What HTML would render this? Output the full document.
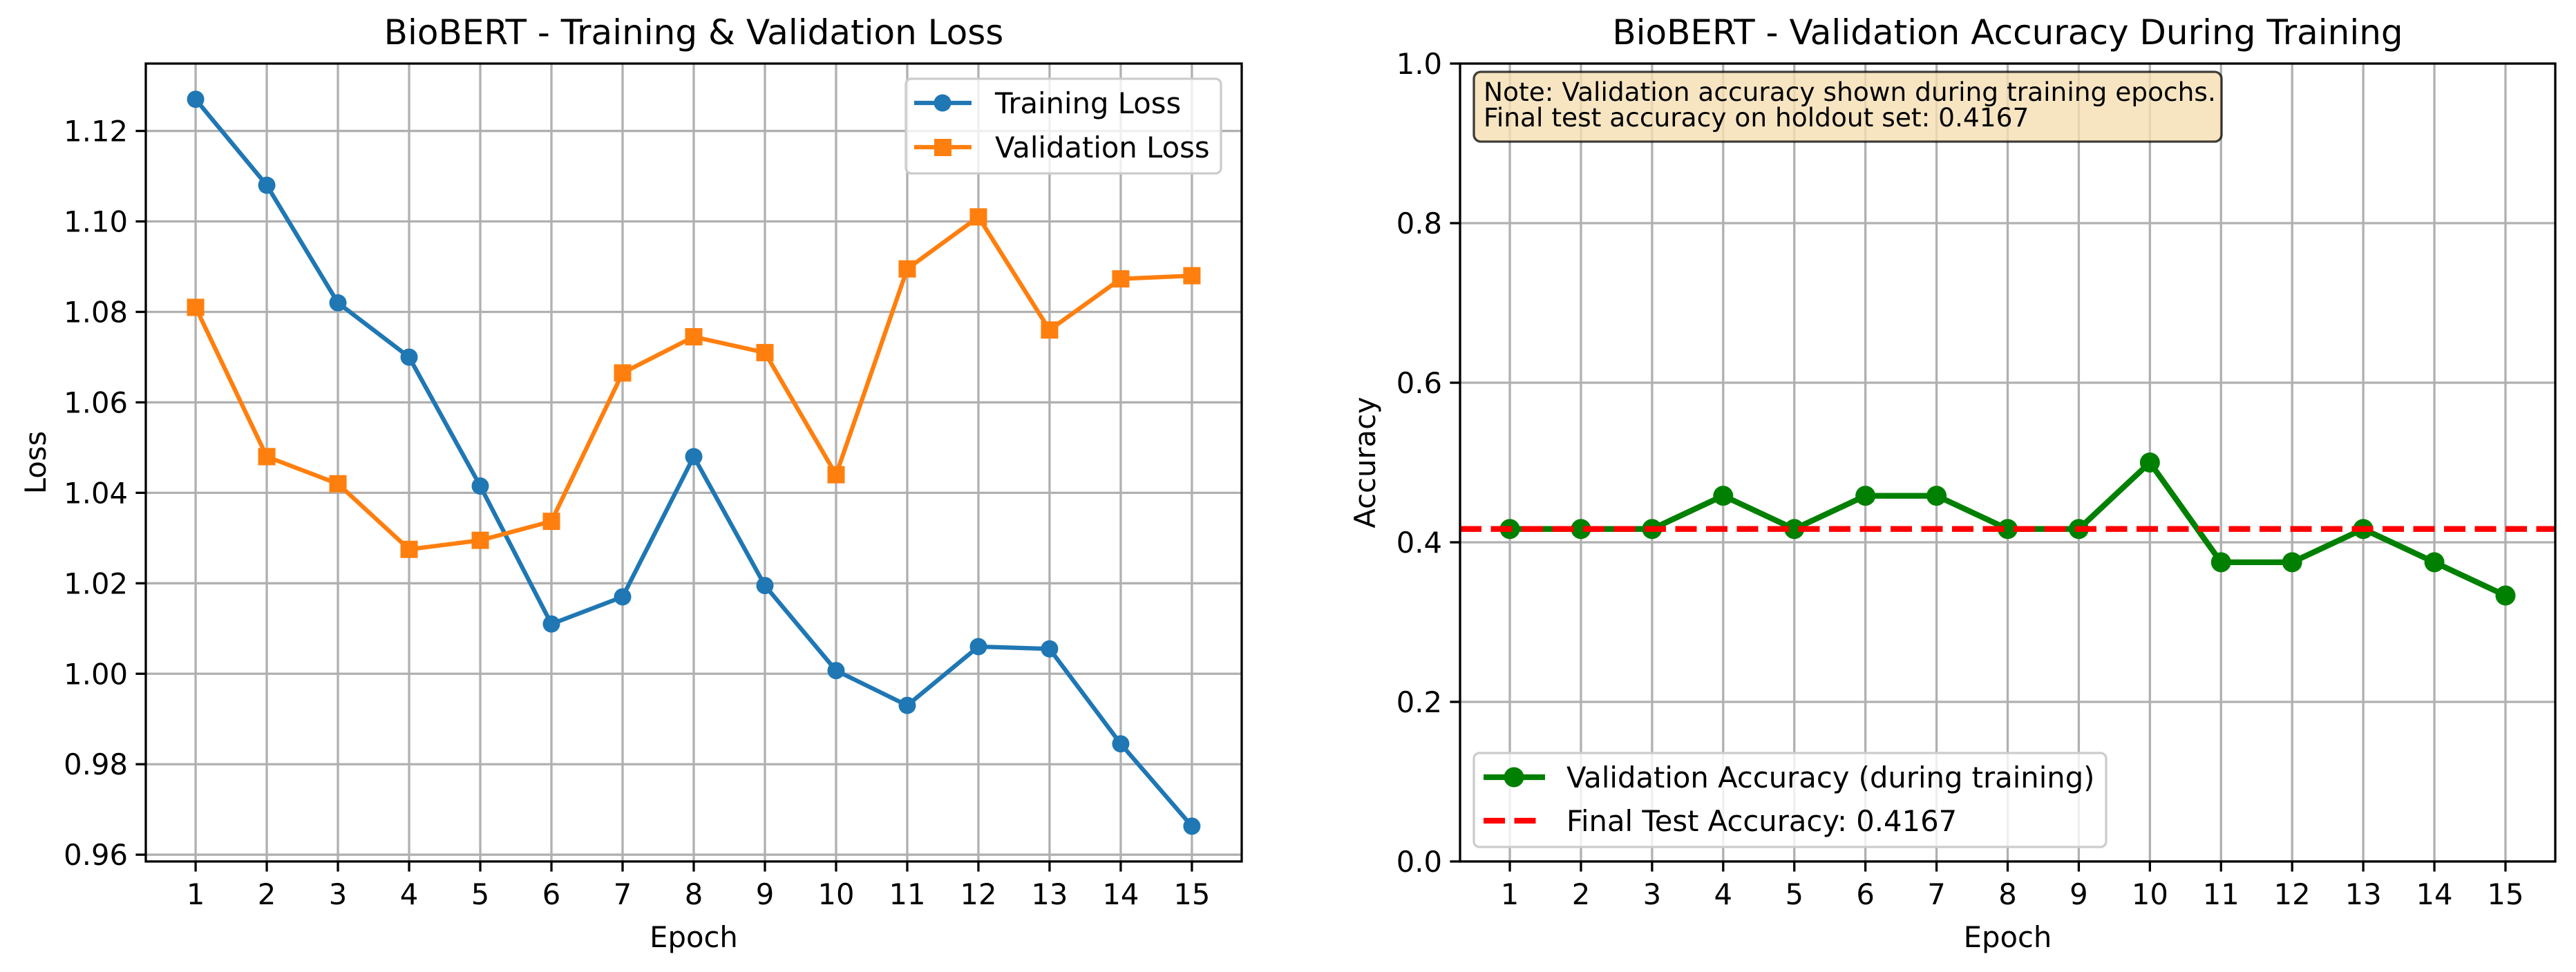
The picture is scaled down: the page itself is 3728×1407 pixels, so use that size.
<!DOCTYPE html>
<html><head><meta charset="utf-8"><style>
html,body{margin:0;padding:0;background:#fff;}
svg{display:block;font-family:"DejaVu Sans","Liberation Sans",sans-serif;}
</style></head><body>
<svg id="fig" width="3728" height="1407" viewBox="0 0 3728 1407" xmlns="http://www.w3.org/2000/svg">
<rect width="3728" height="1407" fill="#fff"/>
<g id="left"></g>
<g id="right"></g>
</svg>
<script>
const epochs = [1,2,3,4,5,6,7,8,9,10,11,12,13,14,15];
const trainLoss = [1.127,1.108,1.082,1.070,1.0415,1.011,1.017,1.048,1.0195,1.0007,0.993,1.006,1.0055,0.9845,0.9663];
const valLoss = [1.081,1.048,1.042,1.0275,1.0295,1.0337,1.0665,1.0745,1.071,1.044,1.0895,1.101,1.076,1.0873,1.088];
const valAcc = [0.4167,0.4167,0.4167,0.4583,0.4167,0.4583,0.4583,0.4167,0.4167,0.5,0.375,0.375,0.4167,0.375,0.3333];
const finalTestAcc = [0.4167];
const lossTicks = [0.96,0.98,1.00,1.02,1.04,1.06,1.08,1.10,1.12];
const lossTickLabels = ["0.96","0.98","1.00","1.02","1.04","1.06","1.08","1.10","1.12"];
const accTicks = [0,0.2,0.4,0.6,0.8,1.0];
const accTickLabels = ["0.0","0.2","0.4","0.6","0.8","1.0"];

const NS="http://www.w3.org/2000/svg";
function mk(parent,tag,attrs,text){const e=document.createElementNS(NS,tag);for(const k in attrs)e.setAttribute(k,attrs[k]);if(text!==undefined)e.textContent=text;parent.appendChild(e);return e;}

function axes(g,x0,x1,y0,y1,xmin,xmax,ymin,ymax){
  const sx=v=>x0+(v-xmin)/(xmax-xmin)*(x1-x0);
  const sy=v=>y1-(v-ymin)/(ymax-ymin)*(y1-y0);
  return {sx,sy};
}

function drawFrame(g,ax,x0,x1,y0,y1,yt){
  epochs.forEach(e=>{const l=mk(g,'line',{x1:ax.sx(e),x2:ax.sx(e),y1:y0,y2:y1,stroke:'#b0b0b0','stroke-width':3.3});
    });
  yt.forEach(v=>{const l=mk(g,'line',{x1:x0,x2:x1,y1:ax.sy(v),y2:ax.sy(v),stroke:'#b0b0b0','stroke-width':3.3});
    });
}
function drawSpines(g,ax,x0,x1,y0,y1,yt,ytl,title,ylabel,ylx){
  const r=mk(g,'rect',{x:x0,y:y0,width:x1-x0,height:y1-y0,fill:'none',stroke:'#000','stroke-width':3.3});
  
  epochs.forEach(e=>{
    mk(g,'line',{x1:ax.sx(e),x2:ax.sx(e),y1:y1,y2:y1+14.6,stroke:'#000','stroke-width':3.3});
    const t=mk(g,'text',{x:ax.sx(e),y:y1+62,'font-size':41.7,'text-anchor':'middle',fill:'#000'},String(e));
    
  });
  yt.forEach((v,i)=>{
    mk(g,'line',{x1:x0-14.6,x2:x0,y1:ax.sy(v),y2:ax.sy(v),stroke:'#000','stroke-width':3.3});
    const t=mk(g,'text',{x:x0-26,y:ax.sy(v)+15,'font-size':41.7,'text-anchor':'end',fill:'#000'},ytl[i]);
    
  });
  const tt=mk(g,'text',{x:(x0+x1)/2,y:64,'font-size':50,'text-anchor':'middle',fill:'#000'},title);
  
  const xl=mk(g,'text',{x:(x0+x1)/2,y:1371,'font-size':41.7,'text-anchor':'middle',fill:'#000'},'Epoch');
  
  const yl=mk(g,'text',{x:0,y:0,'font-size':41.7,'text-anchor':'middle',fill:'#000',transform:`translate(${ylx},${(y0+y1)/2}) rotate(-90)`},ylabel);
  
}
function series(g,ax,vals,color,lw,marker,ms,name){
  const pts=vals.map((v,i)=>ax.sx(epochs[i])+','+ax.sy(v)).join(' ');
  const pl=mk(g,'polyline',{points:pts,fill:'none',stroke:color,'stroke-width':lw,'stroke-linejoin':'round'});
  
  vals.forEach((v,i)=>{
    let m;
    if(marker==='o') m=mk(g,'circle',{cx:ax.sx(epochs[i]),cy:ax.sy(v),r:ms/2,fill:color});
    else m=mk(g,'rect',{x:ax.sx(epochs[i])-ms/2,y:ax.sy(v)-ms/2,width:ms,height:ms,fill:color});
    
  });
}

// LEFT
(function(){
  const g=document.getElementById('left');
  const x0=211,x1=1797,y0=92,y1=1247;
  const ax=axes(g,x0,x1,y0,y1,0.3,15.7,0.9585,1.1349);
  drawFrame(g,ax,x0,x1,y0,y1,lossTicks);
  series(g,ax,trainLoss,'#1f77b4',6.25,'o',25,'training-loss');
  series(g,ax,valLoss,'#ff7f0e',6.25,'s',25,'validation-loss');
  drawSpines(g,ax,x0,x1,y0,y1,lossTicks,lossTickLabels,'BioBERT - Training & Validation Loss','Loss',66);
  const lg=mk(g,'g',{});
  mk(lg,'rect',{x:1311,y:114,width:456,height:137,rx:8,fill:'#fff','fill-opacity':0.8,stroke:'#cccccc','stroke-width':3.3});
  mk(lg,'line',{x1:1323,x2:1406,y1:149,y2:149,stroke:'#1f77b4','stroke-width':6.25});
  mk(lg,'circle',{cx:1364,cy:149,r:12.5,fill:'#1f77b4'});
  const a=mk(lg,'text',{x:1440,y:164,'font-size':41.7},'Training Loss');
  mk(lg,'line',{x1:1323,x2:1406,y1:213,y2:213,stroke:'#ff7f0e','stroke-width':6.25});
  mk(lg,'rect',{x:1352,y:201,width:25,height:25,fill:'#ff7f0e'});
  const b=mk(lg,'text',{x:1440,y:228,'font-size':41.7},'Validation Loss');
})();

// RIGHT
(function(){
  const g=document.getElementById('right');
  const x0=2113,x1=3698,y0=92,y1=1247;
  const ax=axes(g,x0,x1,y0,y1,0.3,15.7,0,1);
  drawFrame(g,ax,x0,x1,y0,y1,accTicks);
  series(g,ax,valAcc,'#008000',8.3,'o',29,'validation-accuracy');
  const h=mk(g,'line',{x1:x0,x2:x1,y1:ax.sy(finalTestAcc[0]),y2:ax.sy(finalTestAcc[0]),stroke:'#ff0000','stroke-width':8.3,'stroke-dasharray':'31 13.5'});
  
  drawSpines(g,ax,x0,x1,y0,y1,accTicks,accTickLabels,'BioBERT - Validation Accuracy During Training','Accuracy',1990);
  const nb=mk(g,'g',{});
  mk(nb,'rect',{x:2133,y:104,width:1082,height:101,rx:10,fill:'#f5deb3','fill-opacity':0.8,stroke:'#000','stroke-opacity':0.75,'stroke-width':3.3});
  mk(nb,'text',{x:2147,y:146,'font-size':37.5},'Note: Validation accuracy shown during training epochs.');
  mk(nb,'text',{x:2147,y:183,'font-size':37.5},'Final test accuracy on holdout set: 0.4167');
  const lg=mk(g,'g',{});
  mk(lg,'rect',{x:2133,y:1090,width:915,height:136,rx:8,fill:'#fff','fill-opacity':0.8,stroke:'#cccccc','stroke-width':3.3});
  mk(lg,'line',{x1:2147,x2:2236,y1:1125,y2:1125,stroke:'#008000','stroke-width':8.3});
  mk(lg,'circle',{cx:2191,cy:1125,r:14.5,fill:'#008000'});
  const a=mk(lg,'text',{x:2267,y:1140,'font-size':41.7},'Validation Accuracy (during training)');
  mk(lg,'line',{x1:2147,x2:2236,y1:1188,y2:1188,stroke:'#ff0000','stroke-width':8.3,'stroke-dasharray':'31 13.5'});
  const b=mk(lg,'text',{x:2267,y:1203,'font-size':41.7},'Final Test Accuracy: 0.4167');
})();
</script>
</body></html>
